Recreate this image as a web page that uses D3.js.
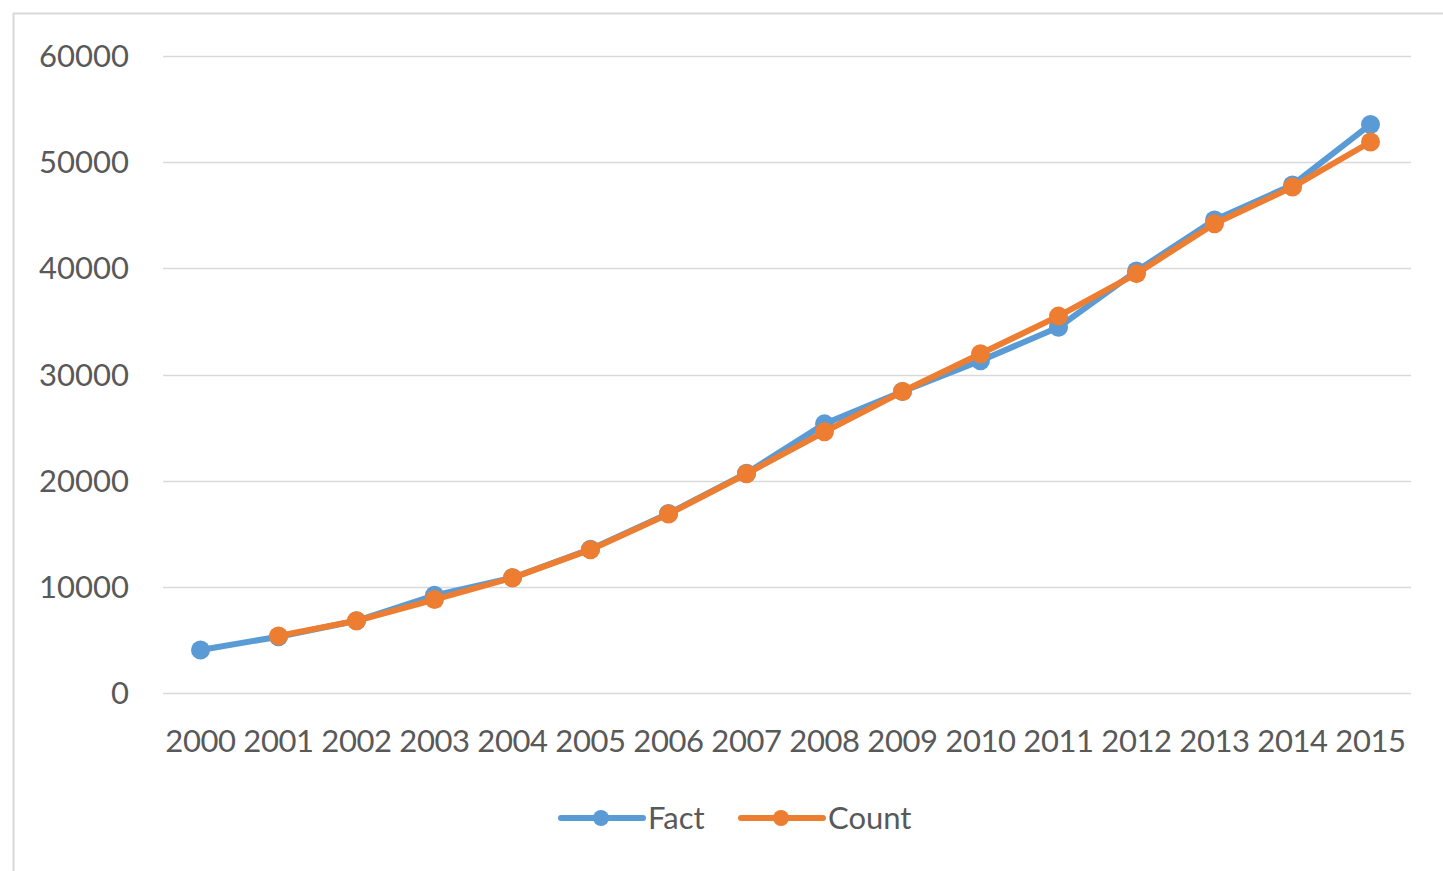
<!DOCTYPE html>
<html>
<head>
<meta charset="utf-8">
<script src="https://cdn.jsdelivr.net/npm/d3@7"></script>
<style>
  body { margin: 0; background: #fff; }
  svg { display: block; }
</style>
</head>
<body>
<svg id="chart"></svg>
<script>
// data
var years = ["2000","2001","2002","2003","2004","2005","2006","2007","2008","2009","2010","2011","2012","2013","2014","2015"];
var fact  = [4050, 5300, 6800, 9200, 10850, 13550, 16900, 20700, 25350, 28400, 31300, 34450, 39750, 44550, 47850, 53550];
var count = [null, 5380, 6800, 8800, 10850, 13500, 16850, 20650, 24600, 28400, 31950, 35500, 39500, 44200, 47650, 51900];
var yTicks = [0, 10000, 20000, 30000, 40000, 50000, 60000];

var seriesNames = ["Fact", "Count"];
var seriesColors = ["#5b9bd5", "#ed7d31"];

var width = 1443;
var height = 871;
var textColor = "#595959";
var gridColor = "#d9d9d9";
var fontFam = "Lato, 'Open Sans', sans-serif";
var fontSize = 31;

var svg = d3.select("#chart")
    .attr("width", width)
    .attr("height", height);

// chart area border (runs off the right and bottom)
svg.append("rect")
    .attr("x", 13.5)
    .attr("y", 13.5)
    .attr("width", width + 10)
    .attr("height", height + 10)
    .attr("fill", "#fff")
    .attr("stroke", "#d9d9d9")
    .attr("stroke-width", 2);

var x = d3.scaleBand()
    .domain(years)
    .range([161.5, 1409.5]);

var y = d3.scaleLinear()
    .domain([0, 60000])
    .range([693, 56]);

var cx = function(d) { return x(d) + x.bandwidth() / 2; };

// gridlines
svg.append("g")
  .selectAll("line")
  .data(yTicks)
  .enter()
  .append("line")
    .attr("x1", 163)
    .attr("x2", 1411)
    .attr("y1", function(d) { return Math.round(y(d)) + 0.5; })
    .attr("y2", function(d) { return Math.round(y(d)) + 0.5; })
    .attr("stroke", gridColor)
    .attr("stroke-width", 1.5);

// y labels
svg.append("g")
  .selectAll("text")
  .data(yTicks)
  .enter()
  .append("text")
    .attr("x", 129)
    .attr("y", function(d) { return y(d); })
    .attr("dy", "0.36em")
    .attr("text-anchor", "end")
    .attr("font-family", fontFam)
    .attr("font-size", fontSize)
    .attr("fill", textColor)
    .text(function(d) { return d; });

// x labels
svg.append("g")
  .selectAll("text")
  .data(years)
  .enter()
  .append("text")
    .attr("x", cx)
    .attr("y", 752)
    .attr("text-anchor", "middle")
    .attr("font-family", fontFam)
    .attr("font-size", fontSize)
    .attr("letter-spacing", -0.4)
    .attr("fill", textColor)
    .text(function(d) { return d; });

// lines
var seriesData = [fact, count];
var line = d3.line()
    .defined(function(d) { return d.v != null; })
    .x(function(d) { return cx(d.year); })
    .y(function(d) { return y(d.v); });

seriesData.forEach(function(vals, i) {
  var pts = years.map(function(yr, j) { return { year: yr, v: vals[j] }; });
  var g = svg.append("g");
  g.append("path")
      .attr("d", line(pts))
      .attr("fill", "none")
      .attr("stroke", seriesColors[i])
      .attr("stroke-width", 6)
      .attr("stroke-linejoin", "round")
      .attr("stroke-linecap", "round");
  g.selectAll("circle")
    .data(pts.filter(function(d) { return d.v != null; }))
    .enter()
    .append("circle")
      .attr("cx", function(d) { return cx(d.year); })
      .attr("cy", function(d) { return y(d.v); })
      .attr("r", 9.5)
      .attr("fill", seriesColors[i]);
});

// legend
var legendX = [561, 741];
seriesNames.forEach(function(name, i) {
  var lg = svg.append("g").attr("transform", "translate(" + legendX[i] + ",818)");
  lg.append("line")
      .attr("x1", 0).attr("x2", 82)
      .attr("stroke", seriesColors[i])
      .attr("stroke-width", 6)
      .attr("stroke-linecap", "round");
  lg.append("circle")
      .attr("cx", 40)
      .attr("r", 8)
      .attr("fill", seriesColors[i]);
  lg.append("text")
      .attr("x", 87)
      .attr("dy", "0.36em")
      .attr("font-family", fontFam)
      .attr("font-size", fontSize)
      .attr("fill", textColor)
      .text(name);
});
</script>
</body>
</html>
